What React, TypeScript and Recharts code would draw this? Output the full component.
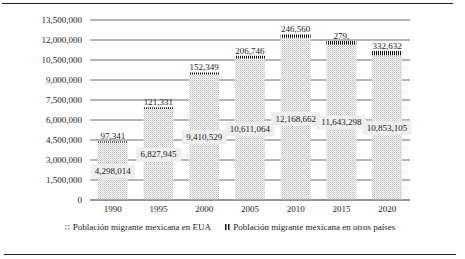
import React from "react";
import { BarChart, Bar, XAxis, YAxis, CartesianGrid, LabelList } from "recharts";

const years = ["1990", "1995", "2000", "2005", "2010", "2015", "2020"];
const eua = [4298014, 6827945, 9410529, 10611064, 12168662, 11643298, 10853105];
const otros = [97341, 121331, 152349, 206746, 246560, 279000, 332632];
const otrosLabels = ["97,341", "121,331", "152,349", "206,746", "246,560", "279,", "332,632"];
const yTicks = [0, 1500000, 3000000, 4500000, 6000000, 7500000, 9000000, 10500000, 12000000, 13500000];

const data = years.map((year, i) => ({ year, eua: eua[i], otros: otros[i] }));

const FONT = "'Liberation Serif', 'Times New Roman', serif";
const fmt = (v: number) => v.toLocaleString("en-US");

const EuaLabel = (props: any) => {
  const { x, y, width, height, value } = props;
  const text = fmt(value);
  const w = text.length * 4.3 + 6;
  const cx = x + width / 2;
  const cy = y + height / 2;
  return (
    <g>
      <rect x={cx - w / 2} y={cy - 7} width={w} height={14} fill="#eeeeee" />
      <text x={cx} y={cy + 3} textAnchor="middle" fontSize={9} fontFamily={FONT} fill="#222">
        {text}
      </text>
    </g>
  );
};

const OtrosLabel = (props: any) => {
  const { x, y, width, index } = props;
  return (
    <text x={x + width / 2} y={y - 2} textAnchor="middle" fontSize={9} fontFamily={FONT} fill="#222">
      {otrosLabels[index]}
    </text>
  );
};

const LegendRow = () => (
  <div
    style={{
      position: "absolute",
      top: 222,
      left: 0,
      width: 460,
      display: "flex",
      justifyContent: "center",
      gap: 14,
      fontFamily: FONT,
      fontSize: 9,
      color: "#222",
    }}
  >
    <span style={{ display: "flex", alignItems: "center" }}>
      <svg width={6} height={6} style={{ marginRight: 2 }}>
        <rect x={0} y={1} width={1.5} height={1.5} fill="#999" />
        <rect x={3} y={1} width={1.5} height={1.5} fill="#999" />
        <rect x={0} y={4} width={1.5} height={1.5} fill="#999" />
        <rect x={3} y={4} width={1.5} height={1.5} fill="#999" />
      </svg>
      Población migrante mexicana en EUA
    </span>
    <span style={{ display: "flex", alignItems: "center" }}>
      <svg width={6} height={6} style={{ marginRight: 2 }}>
        <rect x={0} y={0} width={1.5} height={6} fill="#111" />
        <rect x={3} y={0} width={1.5} height={6} fill="#111" />
      </svg>
      Población migrante mexicana en otros países
    </span>
  </div>
);

export default function App() {
  return (
    <div style={{ position: "fixed", left: 0, top: 0, width: 465, height: 259, background: "#fff" }}>
      <div style={{ position: "absolute", left: 2, top: 3, width: 451, height: 1, background: "#222" }} />
      <div style={{ position: "absolute", left: 4, top: 254, width: 452, height: 1, background: "#222" }} />
      <BarChart
        width={465}
        height={259}
        data={data}
        margin={{ top: 20, right: 55, left: 0, bottom: 29 }}
        barCategoryGap="17%"
      >
        <defs>
          <pattern id="dots" width={2} height={2} patternUnits="userSpaceOnUse">
            <rect width={2} height={2} fill="#f7f7f7" />
            <rect x={0} y={0} width={1} height={1} fill="#bdbdbd" />
            <rect x={1} y={1} width={1} height={1} fill="#d6d6d6" />
          </pattern>
          <pattern id="stripes" width={2} height={2} patternUnits="userSpaceOnUse">
            <rect width={2} height={2} fill="#fff" />
            <rect x={0} y={0} width={1} height={2} fill="#111" />
          </pattern>
        </defs>
        <CartesianGrid vertical={false} stroke="#6e6e6e" />
        <XAxis
          dataKey="year"
          tickLine={false}
          axisLine={{ stroke: "#6e6e6e" }}
          tickSize={0}
          tickMargin={6}
          height={30}
          tick={{ fontSize: 9, fontFamily: FONT, fill: "#222" }}
        />
        <YAxis
          domain={[0, 13500000]}
          ticks={yTicks}
          tickFormatter={fmt}
          axisLine={false}
          tickLine={false}
          tickSize={0}
          tickMargin={8}
          width={90}
          interval={0}
          tick={{ fontSize: 9, fontFamily: FONT, fill: "#222" }}
        />
        <Bar dataKey="eua" stackId="a" fill="url(#dots)" isAnimationActive={false}>
          <LabelList dataKey="eua" content={EuaLabel} />
        </Bar>
        <Bar dataKey="otros" stackId="a" fill="url(#stripes)" isAnimationActive={false}>
          <LabelList dataKey="otros" content={OtrosLabel} />
        </Bar>
      </BarChart>
      <LegendRow />
    </div>
  );
}
